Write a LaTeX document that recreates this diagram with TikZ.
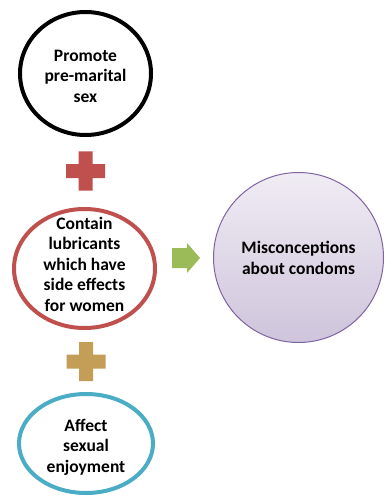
\documentclass[tikz,border=0pt]{standalone}
\usepackage{fontspec}
\setmainfont{Carlito}
\usetikzlibrary{shapes.geometric}
\definecolor{ringred}{RGB}{192,80,77}
\definecolor{ringblue}{RGB}{75,172,198}
\definecolor{plusgold}{RGB}{196,158,86}
\definecolor{arrowgreen}{RGB}{155,187,89}
\definecolor{ringpurple}{RGB}{128,100,162}
\tikzset{
  ring/.style={ellipse,draw,line width=4pt,inner sep=0pt},
  caption/.style={align=center,font=\fontsize{17.5}{20.5}\selectfont\bfseries},
  plussign/.pic={\fill (-19.5,-7) rectangle (19.5,7) (-7,-19.5) rectangle (7,19.5);}
}
\begin{document}
\begin{tikzpicture}[x=1pt,y=-1pt]
        \useasboundingbox (0,0) rectangle (385,497);
        \node[ring,minimum width=131pt,minimum height=123pt] (promote) at (85.5,73.5) {};
        \node[caption] (promotetxt) at (85.5,76) {Promote\\pre-marital\\sex};
        \pic[ringred] at (85.5,171) {plussign};
        \node[ring,draw=ringred,minimum width=141pt,minimum height=119pt] (lubricant) at (84.5,268.5) {};
        \node[caption] (lubricanttxt) at (84.5,264) {Contain\\lubricants\\which have\\side effects\\for women};
        \pic[plusgold] at (86,361.5) {plussign};
        \node[ring,draw=ringblue,minimum width=134pt,minimum height=99pt] (enjoy) at (86,443.5) {};
        \node[caption] (enjoytxt) at (86,447) {Affect\\sexual\\enjoyment};
        \coordinate (tip) at (200,258);
        \fill[arrowgreen] (tip) -- ++(-13,-15) -- ++(0,5) -- ++(-15,0) -- ++(0,20) -- ++(15,0) -- ++(0,5) -- cycle;
        \node[circle,draw=ringpurple,line width=1pt,minimum size=170pt,top color=ringpurple!12,bottom color=ringpurple!38] (myth) at (298.5,257.5) {};
        \node[caption] (mythtxt) at (298.5,258) {Misconceptions\\about condoms};
      \end{tikzpicture}
\end{document}
